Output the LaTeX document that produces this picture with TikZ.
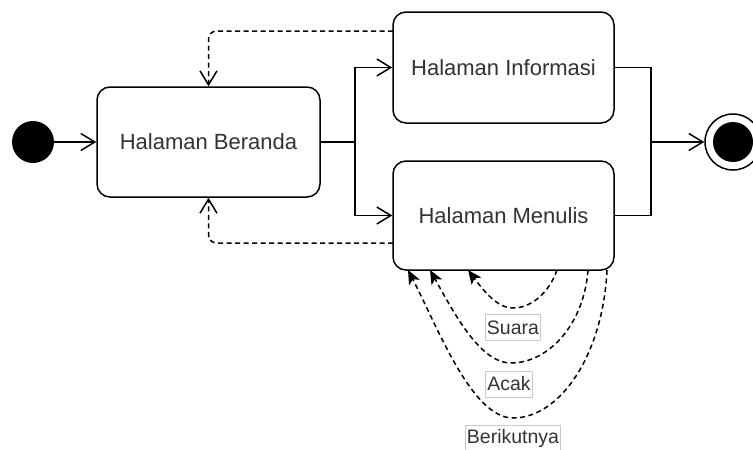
\documentclass[tikz,border=0pt]{standalone}
\usepackage{fontspec}
\setmainfont{Liberation Sans}
\usetikzlibrary{arrows.meta}
\definecolor{txt}{HTML}{333333}
\definecolor{lblborder}{HTML}{C8C8C8}
\begin{document}
\begin{tikzpicture}[x=1pt,y=-1pt,
  statebox/.style={draw=black, line width=1.5pt, rounded corners=13pt, fill=white,
    text=txt, font=\fontsize{22}{26}\selectfont, inner sep=0pt},
  conn/.style={draw=black, line width=1.5pt, -{Straight Barb[length=14pt,width=17pt]}},
  plainconn/.style={draw=black, line width=1.5pt},
  dconn/.style={draw=black, line width=1.5pt, dash pattern=on 5pt off 3.5pt,
    -{Straight Barb[length=14pt,width=17pt]}},
  loopconn/.style={draw=black, line width=1.5pt, dash pattern=on 5pt off 3.5pt,
    -{Stealth[length=14pt,width=12pt,inset=3.5pt]}},
  lbl/.style={draw=lblborder, line width=0.8pt, fill=white, text=txt,
    font=\fontsize{19.5}{22}\selectfont, inner sep=1.5pt, minimum height=26pt}
]
\useasboundingbox (0,0) rectangle (753,450);

% nodes
\node[circle, fill=black, minimum size=42pt, inner sep=0pt] (start) at (33,142) {};
\node[statebox, minimum width=223pt, minimum height=110pt] (beranda) at (208.5,142) {Halaman Beranda};
\node[statebox, minimum width=221pt, minimum height=111pt] (info) at (503.5,67.5) {Halaman Informasi};
\node[statebox, minimum width=221pt, minimum height=109pt] (menulis) at (503.5,215.5) {Halaman Menulis};
\node[circle, draw=black, line width=1.5pt, fill=white, minimum size=56pt, inner sep=0pt] (end) at (733,142) {};
\node[circle, fill=black, minimum size=40pt, inner sep=0pt] (endin) at (733,142) {};

% junction coordinates
\coordinate (j1) at (355,142);
\coordinate (j2) at (651,142);
\coordinate (d1) at (393,31);
\coordinate (d2) at (393,243);

% solid connectors
\draw[conn] (start) -- (beranda);
\draw[plainconn] (beranda.east) -- (j1);
\draw[conn] (j1) |- (info.west);
\draw[conn] (j1) |- (menulis.west);
\draw[plainconn] (info.east) -| (j2) |- (menulis.east);
\draw[conn] (j2) -- (end);

% dashed return connectors
\draw[dconn, rounded corners=8pt] (d1) -| (beranda.north);
\draw[dconn, rounded corners=8pt] (d2) -| (beranda.south);

% self loops on Halaman Menulis
\coordinate (s1) at (557,270);
\coordinate (e1) at (468,270);
\coordinate (s2) at (588,270);
\coordinate (e2) at (430,270);
\coordinate (s3) at (607,270);
\coordinate (e3) at (408,270);

\draw[loopconn] (s1) .. controls (549,293) and (531,308) .. (513,308)
  .. controls (497,308) and (484,291) .. (e1);
\draw[loopconn] (s2) .. controls (584,325) and (548,363) .. (511,363)
  .. controls (480,363) and (454,313) .. (e2);
\draw[loopconn] (s3) .. controls (603,355) and (560,418) .. (513,418)
  .. controls (472,418) and (438,328) .. (e3);

% labels
\node[lbl] (lsuara) at (513,327.5) {Suara};
\node[lbl] (lacak) at (509,384) {Acak};
\node[lbl] (lberik) at (513,438.5) {Berikutnya};
\end{tikzpicture}
\end{document}
